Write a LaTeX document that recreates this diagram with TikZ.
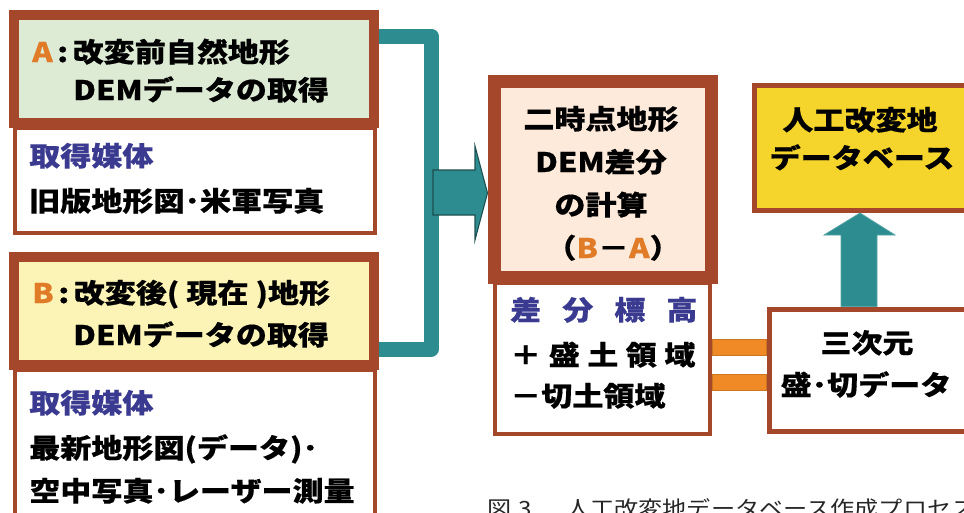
\documentclass[tikz,border=0pt]{standalone}
\usepackage{fontspec}
\newfontfamily\jpfont{Noto Sans CJK JP}[FakeStretch=1.15, BoldFeatures={FakeBold=0.5}]
\usetikzlibrary{fit,calc}
\definecolor{brownB}{HTML}{A4472A}
\definecolor{greenF}{HTML}{DDEBD5}
\definecolor{lyellowF}{HTML}{FCF4B6}
\definecolor{peachF}{HTML}{FDEADA}
\definecolor{yellowF}{HTML}{F5D42B}
\definecolor{tealC}{HTML}{2C8C8F}
\definecolor{tealD}{HTML}{1E4E50}
\definecolor{barO}{HTML}{F08A26}
\definecolor{blueT}{HTML}{3A3A90}
\definecolor{orangeT}{HTML}{E07B28}
\begin{document}
\begin{tikzpicture}[x=0.75pt,y=-0.75pt,
  hdr/.style={draw=brownB, line width=7.5pt, inner sep=0pt},
  bodybox/.style={draw=brownB, line width=3pt, fill=white, inner sep=0pt},
  txt/.style={inner sep=0pt, font=\jpfont\bfseries\fontsize{20.25pt}{24pt}\selectfont},
  captxt/.style={inner sep=0pt, font=\jpfont\fontsize{15.75pt}{18pt}\selectfont, text=black!85},
  bracket/.style={draw=tealC, line width=11.25pt, line join=round},
  blockarrow/.style={fill=tealC, draw=tealD, line width=0.8pt, line join=miter},
  uparrowstyle/.style={fill=tealC, draw=tealC!80!white, line width=0.6pt},
  barstyle/.style={fill=barO, draw=barO!85!black, line width=0.4pt}]
\useasboundingbox (0,0) rectangle (964,512);

% left column
\node[bodybox, fit={(15,128) (375,233)}] (Abody) {};
\node[hdr, fill=greenF, fit={(14,15) (374,123)}] (A) {};
\node[bodybox, fit={(15,370) (375,540)}] (Bbody) {};
\node[hdr, fill=lyellowF, fit={(14,257) (374,365)}] (B) {};

% center column
\node[bodybox, fit={(495,283) (710,434)}] (Cbody) {};
\node[draw=brownB, line width=9.75pt, inner sep=0pt, fill=peachF, fit={(494,81.5) (711,277)}] (C) {};

% right column
\node[draw=brownB, line width=3.75pt, inner sep=0pt, fill=yellowF, fit={(754.5,85) (1000,210.5)}] (D) {};
\node[draw=brownB, line width=3.75pt, inner sep=0pt, fill=white, fit={(769,309) (1000,431)}] (E) {};

% bracket and arrows
\draw[bracket] (A.east |- 0,36) -| (431,349) -- (B.east |- 0,349);
\draw[blockarrow] (433,170) -- (475,170) -- (475,146) -- (C.west |- 0,193) -- (475,240) -- (475,215) -- (433,215) -- cycle;
\draw[uparrowstyle] (841,0 |- E.north) -- (841,235) -- (824,235) -- (860,0 |- D.south) -- (895,235) -- (877,235) -- (877,0 |- E.north) -- cycle;
\draw[barstyle] (Cbody.east |- 0,339) rectangle (E.west |- 0,355);
\draw[barstyle] (Cbody.east |- 0,374) rectangle (E.west |- 0,390);

% texts A
\node[txt, anchor=base west] (a1) at (32,62) {{\color{orangeT}A}\,:\,改変前自然地形};
\node[txt, anchor=base west] (a2) at (73,100) {DEMデータの取得};
\node[txt, anchor=base west, text=blueT] (a3) at (29,166) {取得媒体};
\node[txt, anchor=base west] (a4) at (29,211) {旧版地形図･米軍写真};
% texts B
\node[txt, anchor=base west] (b1) at (32,303) {{\color{orangeT}B}\,:\,改変後( 現在 )地形};
\node[txt, anchor=base west] (b2) at (73,345) {DEMデータの取得};
\node[txt, anchor=base west, text=blueT] (b3) at (29,413) {取得媒体};
\node[txt, anchor=base west] (b4) at (29,458) {最新地形図(データ)･};
\node[txt, anchor=base west] (b5) at (29,501) {空中写真･レーザー測量};
% texts C
\node[txt, anchor=base] (c1) at (601,129) {二時点地形};
\node[txt, anchor=base] (c2) at (601,172) {DEM差分};
\node[txt, anchor=base] (c3) at (601,215) {の計算};
\node[txt, anchor=base] (c4) at (613,258) {（{\color{orangeT}B}－{\color{orangeT}A}）};
\node[txt, anchor=base west, text=blueT] (c5) at (510,320) {差\hskip15.75pt 分\hskip15.75pt 標\hskip15.75pt 高};
\node[txt, anchor=base west] (c6) at (510,365) {＋\hskip5.6pt 盛\hskip5.6pt 土\hskip5.6pt 領\hskip5.6pt 域};
\node[txt, anchor=base west] (c7) at (510,406) {－切土領域};
% texts D, E
\node[txt, anchor=base] (d1) at (860,130) {人工改変地};
\node[txt, anchor=base] (d2) at (862,168) {データベース};
\node[txt, anchor=base] (e1) at (867,353) {三次元};
\node[txt, anchor=base] (e2) at (866,395) {盛･切データ};
% caption
\node[captxt, anchor=base west] (cap) at (487,516) {図\hskip5pt 3\hskip26pt 人工改変地データベース作成プロセス};
\end{tikzpicture}
\end{document}
